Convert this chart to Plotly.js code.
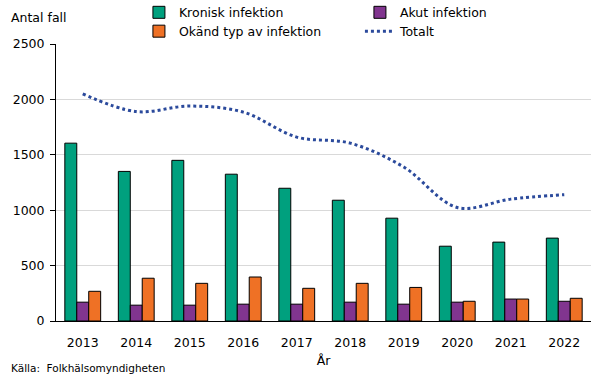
<!DOCTYPE html>
<html>
<head>
<meta charset="utf-8">
<script src="https://cdn.plot.ly/plotly-3.0.1.min.js"></script>
<style>html,body{margin:0;padding:0;background:#fff;}#chart{width:605px;height:379px;}</style>
</head>
<body>
<div id="chart"></div>
<script>
const years = ['2013','2014','2015','2016','2017','2018','2019','2020','2021','2022'];
const kronisk = [1605, 1350, 1450, 1325, 1198, 1090, 928, 675, 712, 748];
const akut = [170, 143, 143, 152, 152, 170, 152, 170, 198, 178];
const okand = [268, 386, 340, 397, 295, 340, 303, 178, 198, 205];
const totalt = [2050, 1890, 1940, 1885, 1660, 1605, 1390, 1025, 1100, 1140];

const FONT = 'DejaVu Sans, Verdana, sans-serif';
const barLine = {color: '#000000', width: 1};

const traces = [
  {type: 'bar', name: 'Kronisk infektion', x: years, y: kronisk,
   marker: {color: '#00A07E', line: barLine}, legend: 'legend'},
  {type: 'bar', name: 'Akut infektion', x: years, y: akut,
   marker: {color: '#81358F', line: barLine}, legend: 'legend'},
  {type: 'bar', name: 'Okänd typ av infektion', x: years, y: okand,
   marker: {color: '#EF7125', line: barLine}, legend: 'legend2'},
  {type: 'scatter', mode: 'lines', name: 'Totalt', x: years, y: totalt,
   line: {color: '#2B4A9C', width: 3, dash: 'dot', shape: 'spline', smoothing: 1},
   legend: 'legend2'}
];

const legendCommon = {
  orientation: 'h', xanchor: 'left', yanchor: 'middle',
  font: {family: FONT, size: 12.5, color: '#000'},
  bgcolor: 'rgba(0,0,0,0)', itemwidth: 30,
  entrywidth: 176, entrywidthmode: 'pixels', traceorder: 'normal',
  itemclick: false, itemdoubleclick: false
};

const layout = {
  width: 605, height: 379,
  margin: {l: 56, r: 14, t: 44, b: 58, pad: 0, autoexpand: false},
  paper_bgcolor: '#ffffff', plot_bgcolor: '#ffffff',
  font: {family: FONT, size: 12, color: '#000'},
  barmode: 'group', bargap: 0.33, bargroupgap: 0,
  showlegend: true,
  legend: Object.assign({}, legendCommon, {x: 0.155, y: 1.113}),
  legend2: Object.assign({}, legendCommon, {x: 0.155, y: 1.045}),
  xaxis: {
    type: 'category', showline: true, linecolor: '#000', linewidth: 1,
    ticks: '', showgrid: false, zeroline: false, ticklabelstandoff: 10,
    tickfont: {family: FONT, size: 12.5, color: '#000'},
    title: {text: 'År', font: {family: FONT, size: 12.5, color: '#000'}, standoff: 7}
  },
  yaxis: {
    range: [0, 2500], dtick: 500, tick0: 0,
    showline: true, linecolor: '#000', linewidth: 1,
    ticks: 'outside', ticklen: 5, tickcolor: '#000', tickwidth: 1,
    ticklabelstandoff: 3,
    showgrid: true, gridcolor: '#d9d9d9', gridwidth: 1, zeroline: false,
    tickfont: {family: FONT, size: 12.5, color: '#000'}
  },
  annotations: [
    {text: 'Antal fall', xref: 'paper', yref: 'paper', x: -0.087, y: 1.095,
     xanchor: 'left', yanchor: 'middle', showarrow: false,
     font: {family: FONT, size: 12.5, color: '#000'}},
    {text: 'Källa:  Folkhälsomyndigheten', xref: 'paper', yref: 'paper',
     x: -0.088, y: -0.17, xanchor: 'left', yanchor: 'middle', showarrow: false,
     font: {family: FONT, size: 10.5, color: '#000'}}
  ]
};

Plotly.newPlot('chart', traces, layout, {displayModeBar: false, staticPlot: true});
</script>
</body>
</html>
